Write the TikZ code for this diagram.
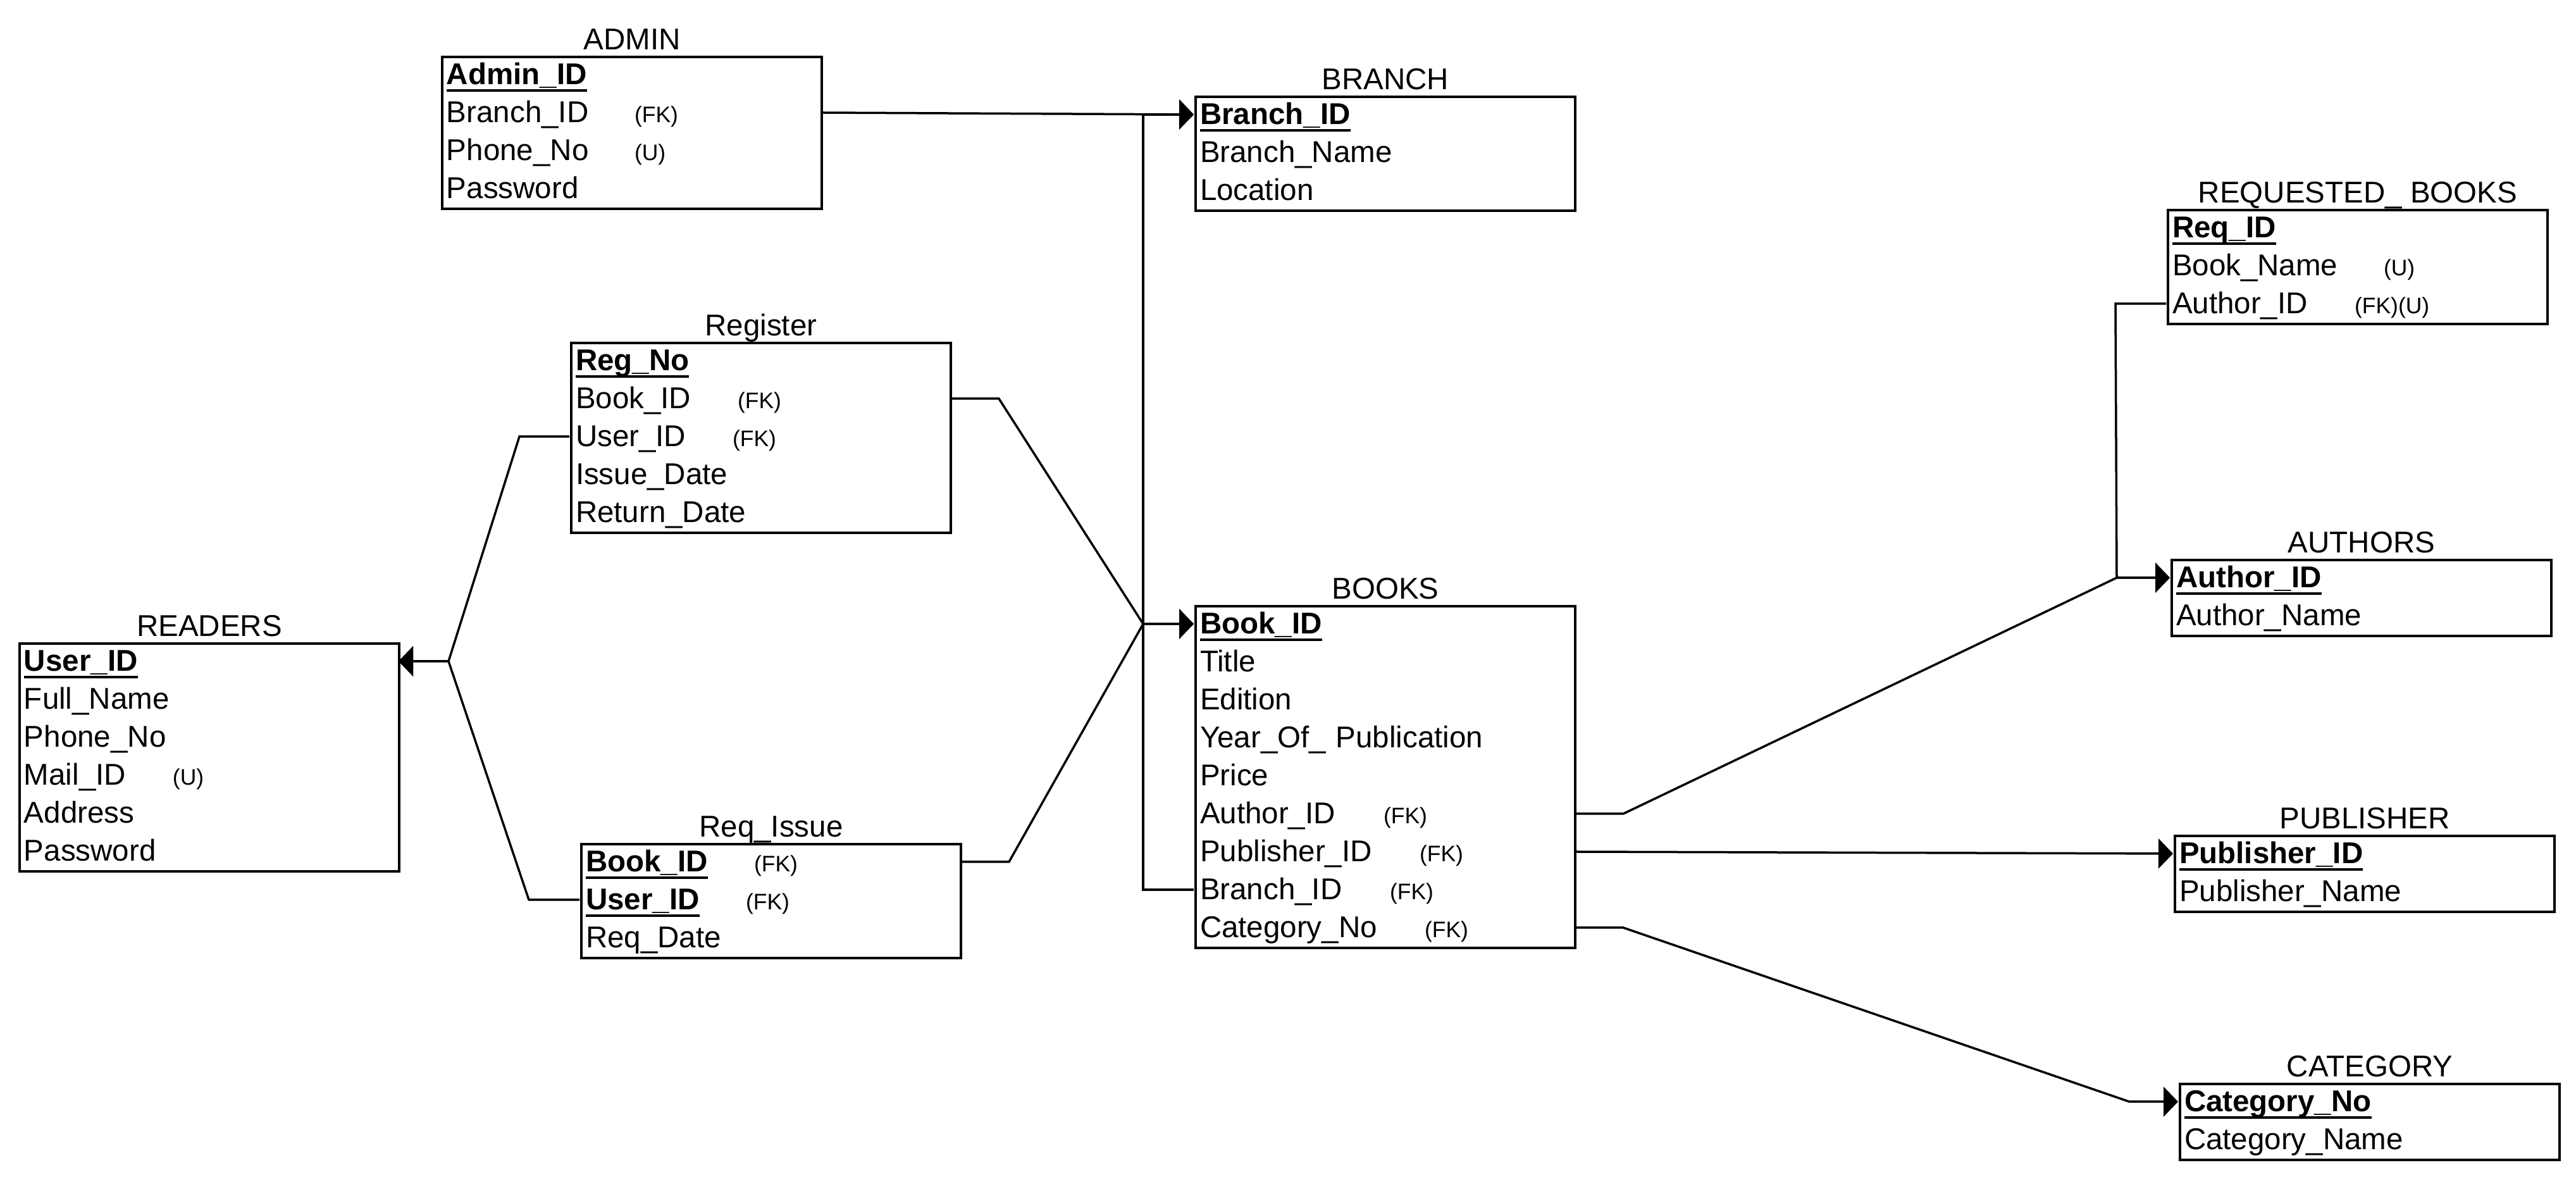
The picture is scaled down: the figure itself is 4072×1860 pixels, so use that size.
\documentclass[tikz,border=0pt]{standalone}
\usepackage{fontspec}
\setmainfont{Liberation Sans}
\usetikzlibrary{arrows.meta}
\newcommand\bodyfont{\fontsize{9.5pt}{11pt}\selectfont}
\newcommand\annfont{\fontsize{7.1pt}{8pt}\selectfont}
\newcommand\pkey[1]{\setbox0\hbox{\bfseries #1}\rlap{\usebox0}\rule[-2.4pt]{\wd0}{0.8pt}}
\newcommand\attrnote[3]{\makebox[#1][l]{#2}{\annfont #3}}
\tikzset{
  tbl/.style={draw, line width=0.8pt, minimum width=120pt, inner sep=0pt, anchor=north west},
  row/.style={text width=116.4pt, align=left, inner xsep=1.8pt, inner ysep=0pt,
    minimum height=12pt, text height=7.5pt, text depth=1.38pt, font=\bodyfont},
  ttl/.style={anchor=base, inner sep=0pt, font=\bodyfont},
  link/.style={line width=0.7pt},
  fk/.style={link, -{Triangle[length=4.6pt,width=9.4pt]}},
}
\begin{document}
\begin{tikzpicture}[x=0.2pt,y=-0.2pt]
\useasboundingbox (0,0) rectangle (4072,1860);

% ADMIN
\node[tbl, minimum height=48pt] (admin) at (697,88) {};
\node[ttl] (admin-t) at ([yshift=1.8pt]admin.north) {ADMIN};
\node[row] (admin-1) at (997,118) {\pkey{Admin\_ID}};
\node[row] (admin-2) at (997,178) {\attrnote{59.4pt}{Branch\_ID}{(FK)}};
\node[row] (admin-3) at (997,238) {\attrnote{59.4pt}{Phone\_No}{(U)}};
\node[row] (admin-4) at (997,298) {Password};

% BRANCH
\node[tbl, minimum height=36pt] (branch) at (1888,151) {};
\node[ttl] (branch-t) at ([yshift=1.8pt]branch.north) {BRANCH};
\node[row] (branch-1) at (2188,181) {\pkey{Branch\_ID}};
\node[row] (branch-2) at (2188,241) {Branch\_Name};
\node[row] (branch-3) at (2188,301) {Location};

% REQUESTED_ BOOKS
\node[tbl, minimum height=36pt] (reqbooks) at (3425,330) {};
\node[ttl] (reqbooks-t) at ([yshift=1.8pt]reqbooks.north) {REQUESTED\_ BOOKS};
\node[row] (reqbooks-1) at (3725,360) {\pkey{Req\_ID}};
\node[row] (reqbooks-2) at (3725,420) {\attrnote{66.8pt}{Book\_Name}{(U)}};
\node[row] (reqbooks-3) at (3725,480) {\attrnote{57.6pt}{Author\_ID}{(FK)(U)}};

% Register
\node[tbl, minimum height=60pt] (register) at (901,540) {};
\node[ttl] (register-t) at ([yshift=1.8pt]register.north) {Register};
\node[row] (register-1) at (1201,570) {\pkey{Reg\_No}};
\node[row] (register-2) at (1201,630) {\attrnote{51.2pt}{Book\_ID}{(FK)}};
\node[row] (register-3) at (1201,690) {\attrnote{49.6pt}{User\_ID}{(FK)}};
\node[row] (register-4) at (1201,750) {Issue\_Date};
\node[row] (register-5) at (1201,810) {Return\_Date};

% READERS
\node[tbl, minimum height=72pt] (readers) at (29,1015) {};
\node[ttl] (readers-t) at ([yshift=1.8pt]readers.north) {READERS};
\node[row] (readers-1) at (329,1045) {\pkey{User\_ID}};
\node[row] (readers-2) at (329,1105) {Full\_Name};
\node[row] (readers-3) at (329,1165) {Phone\_No};
\node[row] (readers-4) at (329,1225) {\attrnote{47pt}{Mail\_ID}{(U)}};
\node[row] (readers-5) at (329,1285) {Address};
\node[row] (readers-6) at (329,1345) {Password};

% BOOKS
\node[tbl, minimum height=108pt] (books) at (1888,956) {};
\node[ttl] (books-t) at ([yshift=1.8pt]books.north) {BOOKS};
\node[row] (books-1) at (2188,986) {\pkey{Book\_ID}};
\node[row] (books-2) at (2188,1046) {Title};
\node[row] (books-3) at (2188,1106) {Edition};
\node[row] (books-4) at (2188,1166) {Year\_Of\_ Publication};
\node[row] (books-5) at (2188,1226) {Price};
\node[row] (books-6) at (2188,1286) {\attrnote{58pt}{Author\_ID}{(FK)}};
\node[row] (books-7) at (2188,1346) {\attrnote{69.4pt}{Publisher\_ID}{(FK)}};
\node[row] (books-8) at (2188,1406) {\attrnote{60pt}{Branch\_ID}{(FK)}};
\node[row] (books-9) at (2188,1466) {\attrnote{71pt}{Category\_No}{(FK)}};

% AUTHORS
\node[tbl, minimum height=24pt] (authors) at (3431,883) {};
\node[ttl] (authors-t) at ([yshift=1.8pt]authors.north) {AUTHORS};
\node[row] (authors-1) at (3731,913) {\pkey{Author\_ID}};
\node[row] (authors-2) at (3731,973) {Author\_Name};

% Req_Issue
\node[tbl, minimum height=36pt] (reqissue) at (917,1332) {};
\node[ttl] (reqissue-t) at ([yshift=1.8pt]reqissue.north) {Req\_Issue};
\node[row] (reqissue-1) at (1217,1362) {\attrnote{53.2pt}{\pkey{Book\_ID}}{(FK)}};
\node[row] (reqissue-2) at (1217,1422) {\attrnote{50.6pt}{\pkey{User\_ID}}{(FK)}};
\node[row] (reqissue-3) at (1217,1482) {Req\_Date};

% PUBLISHER
\node[tbl, minimum height=24pt] (publisher) at (3436,1319) {};
\node[ttl] (publisher-t) at ([yshift=1.8pt]publisher.north) {PUBLISHER};
\node[row] (publisher-1) at (3736,1349) {\pkey{Publisher\_ID}};
\node[row] (publisher-2) at (3736,1409) {Publisher\_Name};

% CATEGORY
\node[tbl, minimum height=24pt] (category) at (3444,1711) {};
\node[ttl] (category-t) at ([yshift=1.8pt]category.north) {CATEGORY};
\node[row] (category-1) at (3744,1741) {\pkey{Category\_No}};
\node[row] (category-2) at (3744,1801) {Category\_Name};

% junctions
\coordinate (jb) at (1807,181);
\coordinate (jbk) at (1807,986);
\coordinate (jr) at (709,1045);
\coordinate (ja) at (3346,913);
\coordinate (jc) at (3366,1741);
\coordinate (bregb) at (1579,630);
\coordinate (briss) at (1595,1362);
\coordinate (breru) at (821,690);
\coordinate (briu) at (836,1422);
\coordinate (bba) at (2566,1286);
\coordinate (brba) at (3344,480);
\coordinate (bbc) at (2566,1466);

% connectors
\draw[fk] (admin-2.east) -- (branch-1.west);
\draw[fk] (books-8.west) -| (jb) -- (branch-1.west);
\draw[fk] (register-2.east) -- (bregb) -- (jbk) -- (books-1.west);
\draw[fk] (reqissue-1.east) -- (briss) -- (jbk) -- (books-1.west);
\draw[fk] (register-3.west) -- (breru) -- (jr) -- (readers-1.east);
\draw[fk] (reqissue-2.west) -- (briu) -- (jr) -- (readers-1.east);
\draw[fk] (books-6.east) -- (bba) -- (ja) -- (authors-1.west);
\draw[fk] (reqbooks-3.west) -- (brba) -- (ja) -- (authors-1.west);
\draw[fk] (books-7.east) -- (publisher-1.west);
\draw[fk] (books-9.east) -- (bbc) -- (jc) -- (category-1.west);
\end{tikzpicture}
\end{document}
